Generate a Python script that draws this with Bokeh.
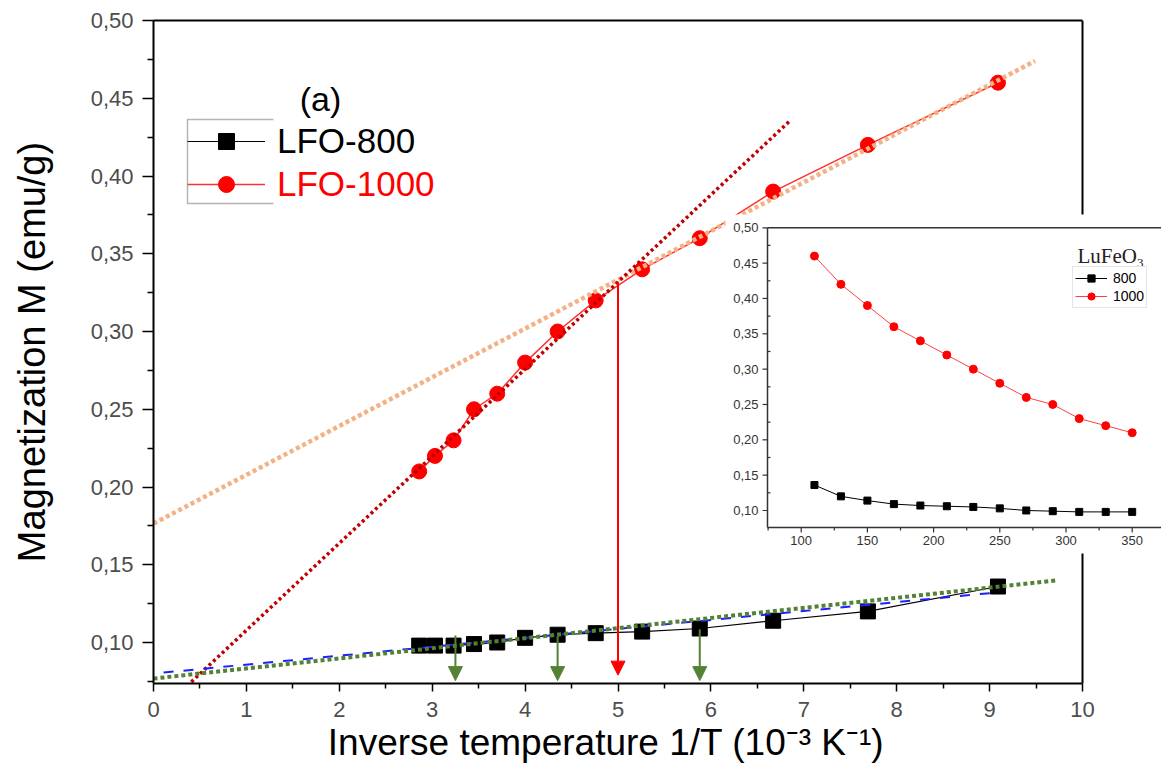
from bokeh.plotting import figure
from bokeh.models import (Range1d, LinearAxis, FixedTicker, CustomJSTickFormatter, Legend,
                          LegendItem, Label, Arrow, NormalHead, ColumnDataSource)
from bokeh.core.properties import value
from bokeh.embed import file_html
from bokeh.resources import INLINE

# ---------------- data ----------------
inv_T = [2.86, 3.03, 3.23, 3.45, 3.70, 4.00, 4.35, 4.76, 5.26, 5.88, 6.67, 7.69, 9.09]
T_K = [350, 330, 310, 290, 270, 250, 230, 210, 190, 170, 150, 130, 110]
M_800 = [0.098, 0.098, 0.098, 0.099, 0.100, 0.103, 0.105, 0.106, 0.107, 0.109, 0.114, 0.120, 0.136]
M_1000 = [0.21, 0.22, 0.23, 0.25, 0.26, 0.28, 0.30, 0.32, 0.34, 0.36, 0.39, 0.42, 0.46]

fit_steep_x = [0.36, 6.86]
fit_steep_y = [0.0720, 0.436]
fit_flat_x = [0.0, 9.49]
fit_flat_y = [0.1765, 0.474]
fit_800_x = [0.0, 9.73]
fit_800_y = [0.0768, 0.140]
fit_800b_x = [-0.32, 9.10]
fit_800b_y = [0.0782, 0.1323]

red_arrow_x = 5.0
red_arrow_top = 0.332
red_arrow_tip = 0.079
green_arrow_x = [3.25, 4.35, 5.88]
green_arrow_top = [0.1045, 0.1040, 0.1085]
green_arrow_tip = [0.0755, 0.0755, 0.0755]

main_xticks = [0, 1, 2, 3, 4, 5, 6, 7, 8, 9, 10]
main_xminor = [0.5, 1.5, 2.5, 3.5, 4.5, 5.5, 6.5, 7.5, 8.5, 9.5]
main_yticks = [0.10, 0.15, 0.20, 0.25, 0.30, 0.35, 0.40, 0.45, 0.50]
main_yminor = [0.075, 0.125, 0.175, 0.225, 0.275, 0.325, 0.375, 0.425, 0.475]

inset_xticks = [100, 150, 200, 250, 300, 350]
inset_xlabels = ["100", "150", "200", "250", "300", "350"]
inset_xminor = [75, 125, 175, 225, 275, 325]
inset_yticks = [0.10, 0.15, 0.20, 0.25, 0.30, 0.35, 0.40, 0.45, 0.50]
inset_ylabels = ["0,10", "0,15", "0,20", "0,25", "0,30", "0,35", "0,40", "0,45", "0,50"]
inset_yminor = [0.125, 0.175, 0.225, 0.275, 0.325, 0.375, 0.425, 0.475]

# ---------------- layout geometry (pixels) ----------------
W, H = 1161, 771
FL, FR, FT, FB = 153, 1161, 20, 683
X0PX, XPX = 153.0, 92.9          # main x: 0 at 153 px, 92.9 px per unit
Y50PX, YPX = 20.0, 1555.0        # main y: 0.50 at 20 px, 1555 px per unit


def px2x(px):
    return (px - X0PX) / XPX


def py2y(py):
    return 0.5 - (py - Y50PX) / YPX


IX100, IXPX = 800.7, 1.324       # inset x: 100 at 800.7 px
IY50, IYPX = 227.3, 706.7        # inset y: 0.50 at 227.3 px


def ipx2x(px):
    return 100 + (px - IX100) / IXPX


def ipy2y(py):
    return 0.5 - (py - IY50) / IYPX


FONT = "Liberation Sans"

p = figure(width=W, height=H,
           x_range=Range1d(px2x(FL), px2x(FR)), y_range=Range1d(py2y(FB), py2y(FT)),
           output_backend="svg", toolbar_location=None,
           min_border_left=FL, min_border_right=W - FR, min_border_top=FT, min_border_bottom=H - FB,
           outline_line_color=None, background_fill_color="white", border_fill_color="white")
p.extra_x_ranges = {"ix": Range1d(ipx2x(FL), ipx2x(FR))}
p.extra_y_ranges = {"iy": Range1d(ipy2y(FB), ipy2y(FT))}
p.xgrid.visible = False
p.ygrid.visible = False

# ---- main axes ----
xa = p.xaxis[0]
xa.ticker = FixedTicker(ticks=main_xticks, minor_ticks=main_xminor)
xa.bounds = (0, 10)
xa.axis_line_width = 2
xa.axis_line_color = "black"
xa.major_tick_out = 8
xa.major_tick_in = 0
xa.minor_tick_out = 5
xa.minor_tick_in = 0
xa.major_tick_line_width = 1.5
xa.minor_tick_line_width = 1.5
xa.major_label_text_font = FONT
xa.major_label_text_font_size = "22px"
xa.major_label_text_color = "#4d4d4d"
xa.major_label_standoff = 10
# trailing no-break spaces shift the centred title left (the frame is wider than the axis)
xa.axis_label = "Inverse temperature 1/T (10\u207b\u00b3 K\u207b\u00b9)" + "\u00a0" * 10
xa.axis_label_text_font = FONT
xa.axis_label_text_font_size = "37px"
xa.axis_label_text_font_style = "normal"
xa.axis_label_text_color = "black"
xa.axis_label_standoff = 2

ya = p.yaxis[0]
ya.ticker = FixedTicker(ticks=main_yticks, minor_ticks=main_yminor)
ya.formatter = CustomJSTickFormatter(code="return tick.toFixed(2).replace('.', ',');")
ya.axis_line_width = 2
ya.axis_line_color = "black"
ya.major_tick_out = 11
ya.major_tick_in = 0
ya.minor_tick_out = 6
ya.minor_tick_in = 0
ya.major_tick_line_width = 1.5
ya.minor_tick_line_width = 1.5
ya.major_label_text_font = FONT
ya.major_label_text_font_size = "22px"
ya.major_label_text_color = "#4d4d4d"
ya.major_label_standoff = 9
ya.axis_label = "Magnetization M (emu/g)"
ya.axis_label_text_font = FONT
ya.axis_label_text_font_size = "38px"
ya.axis_label_text_font_style = "normal"
ya.axis_label_text_color = "black"
ya.axis_label_standoff = 35

top_axis = LinearAxis(ticker=FixedTicker(ticks=[]), bounds=(0, 10), major_tick_out=0, major_tick_in=0,
                      minor_tick_out=0, minor_tick_in=0, major_label_text_font_size="0px",
                      axis_line_width=2, axis_line_color="black", major_label_standoff=0)
p.add_layout(top_axis, "above")

# right border of main frame (drawn as glyph so the inset can cover it)
p.line(x=[10, 10], y=[py2y(FB), 0.5], line_color="black", line_width=2)

# ---- main data ----
l800 = p.line(inv_T, M_800, line_color="black", line_width=1.2)
s800 = p.scatter(inv_T, M_800, marker="square", size=15, fill_color="black", line_color="black")
l1000 = p.line(inv_T, M_1000, line_color="#ff3030", line_width=1.5)
c1000 = p.scatter(inv_T, M_1000, marker="circle", size=15, fill_color="red", line_color="red")

# ---- fitted lines ----
p.line(fit_flat_x, fit_flat_y, line_color="#f4b183", line_width=4.5, line_dash="4 3")
p.line(fit_steep_x, fit_steep_y, line_color="#c00000", line_width=3.5, line_dash="3 3")
p.line(fit_800b_x, fit_800b_y, line_color="#1f1fff", line_width=2, line_dash="10 10")
p.line(fit_800_x, fit_800_y, line_color="#548235", line_width=4, line_dash="4 3")

# ---- arrows ----
p.add_layout(Arrow(end=NormalHead(size=14, fill_color="red", line_color="red"),
                   x_start=red_arrow_x, y_start=red_arrow_top, x_end=red_arrow_x, y_end=red_arrow_tip,
                   line_color="red", line_width=2))
garrow_src = ColumnDataSource(dict(x=green_arrow_x, y0=green_arrow_top, y1=green_arrow_tip))
p.add_layout(Arrow(end=NormalHead(size=14, fill_color="#548235", line_color="#548235"),
                   source=garrow_src, x_start="x", y_start="y0", x_end="x", y_end="y1",
                   line_color="#548235", line_width=2))

# ---- main legend ----
box_x = [px2x(273), px2x(187), px2x(187), px2x(273)]
box_y = [py2y(119), py2y(119), py2y(203), py2y(203)]
p.line(box_x, box_y, line_color="#b4b4b4", line_width=1.5)

leg1 = Legend(items=[LegendItem(label="LFO-800", renderers=[l800, s800])],
              location=(187 - FL, FB - 161), glyph_width=78, glyph_height=40, label_height=40,
              label_text_font=FONT, label_text_font_size="35px", label_text_color="black",
              label_standoff=12, padding=0, margin=0, spacing=0,
              border_line_color=None, background_fill_alpha=0)
leg2 = Legend(items=[LegendItem(label="LFO-1000", renderers=[l1000, c1000])],
              location=(187 - FL, FB - 204), glyph_width=78, glyph_height=40, label_height=40,
              label_text_font=FONT, label_text_font_size="35px", label_text_color="red",
              label_standoff=12, padding=0, margin=0, spacing=0,
              border_line_color=None, background_fill_alpha=0)
p.add_layout(leg1)
p.add_layout(leg2)

p.add_layout(Label(x=px2x(320), y=py2y(98), text="(a)", text_align="center", text_baseline="middle",
                   text_font=FONT, text_font_size="34px", text_color="black"))

# ---------------- inset ----------------
i_left = ipx2x(767)
i_right = ipx2x(FR)
i_bottom = ipy2y(527)
i_top = 0.50

p.quad(left=ipx2x(725), right=ipx2x(FR + 5), bottom=ipy2y(553), top=ipy2y(214),
       x_range_name="ix", y_range_name="iy", fill_color="white", line_color=None)

ax_col = "#333333"
p.line([i_left, i_right], [i_bottom, i_bottom], x_range_name="ix", y_range_name="iy",
       line_color=ax_col, line_width=1.5)
p.line([i_left, i_right], [i_top, i_top], x_range_name="ix", y_range_name="iy",
       line_color=ax_col, line_width=1.5)
p.line([i_left, i_left], [i_bottom, i_top], x_range_name="ix", y_range_name="iy",
       line_color=ax_col, line_width=1.5)

tx = 5.0 / IYPX
ty = 5.0 / IXPX
p.segment(x0=inset_xticks, y0=[i_bottom] * len(inset_xticks), x1=inset_xticks,
          y1=[i_bottom - tx] * len(inset_xticks), x_range_name="ix", y_range_name="iy",
          line_color=ax_col, line_width=1.2)
p.segment(x0=inset_xminor, y0=[i_bottom] * len(inset_xminor), x1=inset_xminor,
          y1=[i_bottom - 0.6 * tx] * len(inset_xminor), x_range_name="ix", y_range_name="iy",
          line_color=ax_col, line_width=1.2)
p.segment(x0=[i_left] * len(inset_yticks), y0=inset_yticks, x1=[i_left - ty] * len(inset_yticks),
          y1=inset_yticks, x_range_name="ix", y_range_name="iy", line_color=ax_col, line_width=1.2)
p.segment(x0=[i_left] * len(inset_yminor), y0=inset_yminor, x1=[i_left + 0.6 * ty] * len(inset_yminor),
          y1=inset_yminor, x_range_name="ix", y_range_name="iy", line_color=ax_col, line_width=1.2)

p.text(x=inset_xticks, y=[i_bottom] * len(inset_xticks), text=inset_xlabels, x_range_name="ix",
       y_range_name="iy", text_align="center", text_baseline="top", y_offset=8,
       text_font=value(FONT), text_font_size="13px", text_color="#333333")
p.text(x=[i_left] * len(inset_yticks), y=inset_yticks, text=inset_ylabels, x_range_name="ix",
       y_range_name="iy", text_align="right", text_baseline="middle", x_offset=-9,
       text_font=value(FONT), text_font_size="13px", text_color="#333333")

il800 = p.line(T_K, M_800, x_range_name="ix", y_range_name="iy", line_color="black", line_width=1)
is800 = p.scatter(T_K, M_800, x_range_name="ix", y_range_name="iy", marker="square", size=7,
                  fill_color="black", line_color="black")
il1000 = p.line(T_K, M_1000, x_range_name="ix", y_range_name="iy", line_color="#ff4040", line_width=1)
ic1000 = p.scatter(T_K, M_1000, x_range_name="ix", y_range_name="iy", marker="circle", size=8,
                   fill_color="red", line_color="red")

p.text(x=[ipx2x(1077)], y=[ipy2y(255)], text=["LuFeO"], x_range_name="ix", y_range_name="iy",
       text_align="left", text_baseline="alphabetic", text_font=value("Liberation Serif"),
       text_font_size="21px", text_color="#222222")
p.text(x=[ipx2x(1077 + 2.833 * 21)], y=[ipy2y(262)], text=["3"], x_range_name="ix", y_range_name="iy",
       text_align="left", text_baseline="alphabetic", text_font=value("Liberation Serif"),
       text_font_size="13px", text_color="#222222")

ileg = Legend(items=[LegendItem(label="800", renderers=[il800, is800]),
                     LegendItem(label="1000", renderers=[il1000, ic1000])],
              location=(1072 - FL, FB - 308), glyph_width=32, glyph_height=18, label_height=18,
              label_text_font=FONT, label_text_font_size="14px", label_text_color="black",
              label_standoff=6, padding=2, margin=0, spacing=0,
              border_line_color="#cccccc", border_line_width=1.5,
              background_fill_color="white", background_fill_alpha=1)
p.add_layout(ileg)

open("out.html", "w").write(file_html(p, INLINE))
